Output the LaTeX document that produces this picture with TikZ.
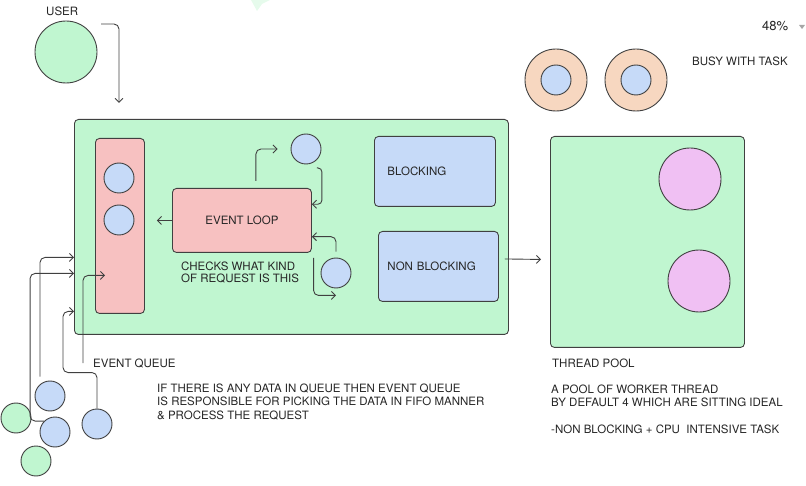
\documentclass[tikz,border=0pt]{standalone}
\usepackage{fontspec}
\setmainfont{TeX Gyre Heros}
\definecolor{main}{RGB}{198,218,248}
\definecolor{second}{RGB}{247,193,193}
\definecolor{third}{RGB}{247,215,192}
\definecolor{fourth}{RGB}{192,246,208}
\definecolor{fifth}{RGB}{240,192,243}
\definecolor{ink}{RGB}{64,64,64}
\usepackage{tikz}
\usetikzlibrary{
	arrows.meta,
	positioning,
	calc
}
\tikzset{
  % arrow
	cstra/.style      ={-{Straight Barb[length=4pt,width=8pt]}, draw=ink, line width=.9pt, rounded corners=5pt}, % right arrow
  % dot
	cstdot/.style     ={circle, draw=ink, line width=.9pt, inner sep=0pt, minimum size=30pt},
	cstdot1/.style    ={cstdot, fill=main},
	cstdot3/.style    ={cstdot, fill=third},
	cstdot4/.style    ={cstdot, fill=fourth},
	cstdot5/.style    ={cstdot, fill=fifth},
  % node
	cstnode/.style    ={draw=ink, text=black!85, rounded corners=4pt, line width=.9pt, inner sep=0pt, anchor=north west},
	cstnode1/.style   ={cstnode, fill=main},
	cstnode2/.style   ={cstnode, fill=second},
	cstnode4/.style   ={cstnode, fill=fourth},
  % text (base = last line)
	csttext/.style    ={inner sep=0pt, anchor=base west, align=left, text=black!85}
}

\begin{document}
\begin{tikzpicture}[x=1pt,y=-1pt,font=\fontsize{11.5}{13.3}\selectfont]
	\useasboundingbox (0,0) rectangle (806,486);
	\fill[fourth!40!white] (251,0)--(270,0)--(262,4)--(257,11)--cycle;
	% user
	\node[csttext] (userlbl) at (46,16) {USER};
	\node[cstdot4,minimum size=62pt] (user) at (66,52) {};
	% event loop side
	\node[cstnode4,minimum width=434pt,minimum height=215pt] (main) at (74,119) {};
	\node[cstnode2,minimum width=49pt,minimum height=175pt] (queue) at (95,138) {};
	\node[cstdot1] (q1) at (119,178) {};
	\node[cstdot1] (q2) at (119,220) {};
	\node[cstnode2,minimum width=139pt,minimum height=64pt] (loop) at (172,188) {EVENT LOOP};
	\node[cstdot1] (cb1) at (306,149) {};
	\node[cstdot1] (cb2) at (336,273) {};
	\node[cstnode1,text width=95pt,inner xsep=13pt,align=left,minimum height=70pt] (block) at (374,136) {BLOCKING};
	\node[cstnode1,text width=102pt,inner xsep=9pt,align=left,minimum height=70pt] (nonblock) at (378,231) {NON BLOCKING};
	% thread pool
	\node[cstnode4,minimum width=194pt,minimum height=211pt] (pool) at (550,136) {};
	\node[cstdot5,minimum size=62pt] (w1) at (690,179) {};
	\node[cstdot5,minimum size=62pt] (w2) at (699,281) {};
	\foreach \i/\x in {1/556,2/636}{
		\node[cstdot3,minimum size=62pt] (busy\i) at (\x,80) {};
		\node[cstdot1] (task\i) at (busy\i) {};
	}
	% requests
	\node[cstdot1] (r1) at (50,396) {};
	\node[cstdot4] (g1) at (16,418) {};
	\node[cstdot1] (r2) at (55,432) {};
	\node[cstdot4] (g2) at (36,461) {};
	\node[cstdot1] (r3) at (97,424) {};
	% labels
	\node[csttext] (qlbl) at (93,367) {EVENT QUEUE};
	\node[csttext,font=\fontsize{11.5}{12.5}\selectfont] (checks) at (181,283) {CHECKS WHAT KIND\\OF REQUEST IS THIS};
	\node[csttext] (qnote) at (157,419) {IF THERE IS ANY DATA IN QUEUE THEN EVENT QUEUE\\IS RESPONSIBLE FOR PICKING THE DATA IN FIFO MANNER\\\& PROCESS THE REQUEST};
	\node[csttext] (poollbl) at (552,367) {THREAD POOL};
	\node[csttext] (poolnote) at (551,433) {A POOL OF WORKER THREAD\\BY DEFAULT 4 WHICH ARE SITTING IDEAL\\[13.3pt]-NON BLOCKING + CPU\ \ INTENSIVE TASK};
	\node[csttext] (busylbl) at (692,66) {BUSY WITH TASK};
	\node[csttext,font=\fontsize{13}{15}\selectfont] (zoomlbl) at (762,31) {48\%};
	\fill[black!35] (799,25)--(805,25)--(802,29)--cycle;
	% arrows
	\coordinate (userout) at (101,24);
	\coordinate (mainin) at (119,103);
	\coordinate (qfree) at (83,363);
	\draw[cstra] (userout) -| (mainin);
	\draw[cstra,shorten >=12pt] (loop.west) -- (queue.east |- loop.west);
	\draw[cstra,shorten <=7pt,shorten >=13pt] ($(loop.north west)!.6!(loop.north east)$) |- (cb1.west);
	\draw[cstra,rounded corners=4pt] ($(cb1.south east)+(0,8)$) -- ++(5,0) |- ($(loop.north east)!.25!(loop.south east)$);
	\draw[cstra,shorten <=6pt] (cb2.north) |- ($(loop.north east)!.75!(loop.south east)$);
	\draw[cstra] ($(cb2.west)+(-7,-15)$) |- ([yshift=-7pt]cb2.south);
	\draw[cstra] ([xshift=-4pt,yshift=-32pt]main.east) -- ([xshift=-9pt,yshift=-17.5pt]pool.west);
	\draw[cstra] ($(r1.north)+(-10,-4)$) |- ([yshift=-30.5pt]main.west);
	\draw[cstra] (r2.north west) -- ++(-14,0) |- ([yshift=-46.5pt]main.west);
	\draw[cstra] (r3.north) |- ++(-34,-36) |- ([yshift=-84.5pt]main.west);
	\draw[cstra] (qfree) |- ([xshift=10pt,yshift=-49.5pt]queue.west);
\end{tikzpicture}
\end{document}
